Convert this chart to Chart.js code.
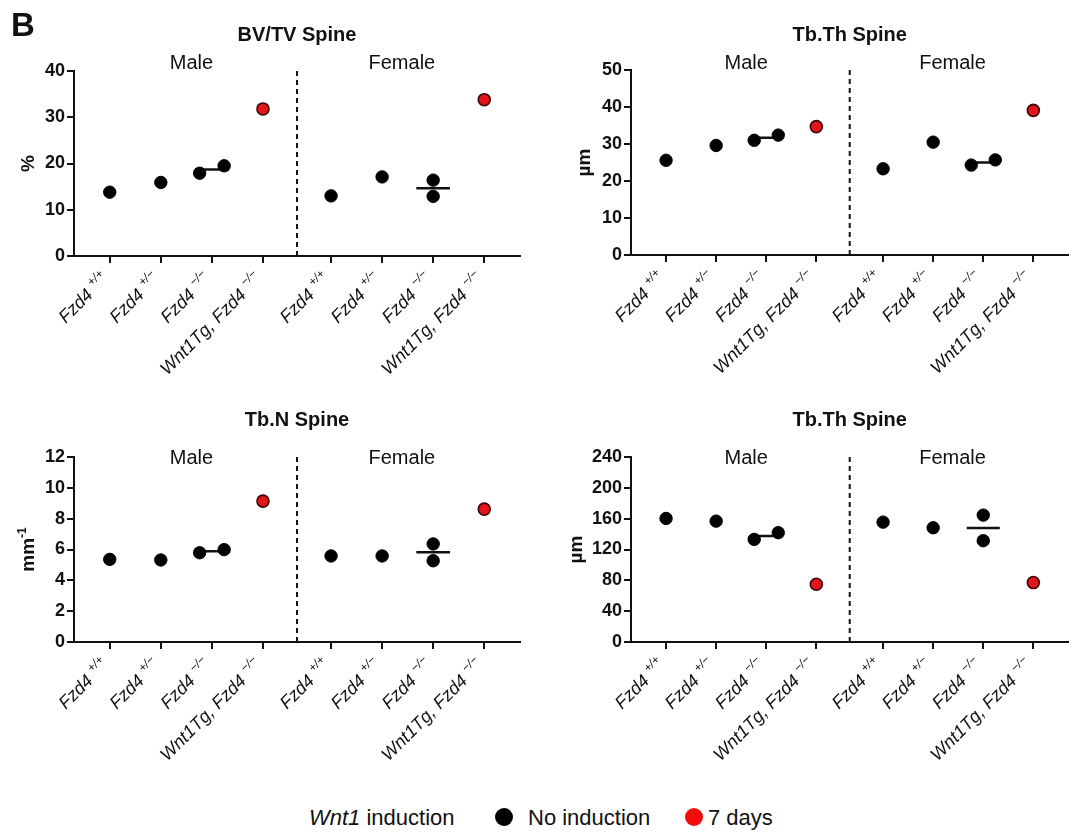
<!DOCTYPE html>
<html>
<head>
<meta charset="utf-8">
<script src="https://cdn.jsdelivr.net/npm/chart.js@4.4.1/dist/chart.umd.min.js"></script>
<style>
  html, body { margin: 0; padding: 0; background: #fff; }
  body { width: 1076px; height: 832px; position: relative; overflow: hidden;
         font-family: "Liberation Sans", Arial, Helvetica, sans-serif; color: #111; }
  canvas { position: absolute; }
  .lg { position: absolute; top: 806px; height: 24px; line-height: 24px; font-size: 22px; white-space: nowrap; }
  .dot { position: absolute; top: 808px; width: 18px; height: 18px; border-radius: 50%; }
</style>
</head>
<body>
<canvas id="c1" width="538" height="400" style="left:0;top:0"></canvas>
<canvas id="c2" width="538" height="400" style="left:538px;top:0"></canvas>
<canvas id="c3" width="538" height="400" style="left:0;top:400px"></canvas>
<canvas id="c4" width="538" height="400" style="left:538px;top:400px"></canvas>
<div class="lg" id="lgTitle" style="left:309px"></div>
<div class="dot" style="left:495px;background:#000"></div>
<div class="lg" id="lg0" style="left:528px"></div>
<div class="dot" style="left:685px;background:#f20d0d"></div>
<div class="lg" id="lg1" style="left:708px"></div>
<script>
// ---------------- data ----------------
const categoryNames = ['Fzd4', 'Fzd4', 'Fzd4', 'Wnt1Tg, Fzd4'];
const genotypes = ['+/+', '+/\u2212', '\u2212/\u2212', '\u2212/\u2212'];
const sexGroups = ['Male', 'Female'];
const inductionGroups = ['No induction', '7 days'];
const legendTitle = ['Wnt1', ' induction'];

// values per category (Fzd4+/+, Fzd4+/-, Fzd4-/-, Wnt1Tg;Fzd4-/-)
const bvtvMale   = [[13.8], [15.9], [17.9, 19.5], [31.8]];
const bvtvFemale = [[13.0], [17.1], [12.9, 16.4], [33.8]];
const tbthMale   = [[25.6], [29.6], [31.0, 32.4], [34.7]];
const tbthFemale = [[23.3], [30.5], [24.3, 25.7], [39.1]];
const tbnMale    = [[5.36], [5.32], [5.79, 5.99], [9.14]];
const tbnFemale  = [[5.58], [5.58], [5.27, 6.36], [8.62]];
const tbspMale   = [[160.3], [156.8], [133.1, 141.8], [75.0]];
const tbspFemale = [[155.5], [148.2], [131.4, 164.6], [77.1]];

const bvtvTicks = [0, 10, 20, 30, 40];
const tbthTicks = [0, 10, 20, 30, 40, 50];
const tbnTicks  = [0, 2, 4, 6, 8, 10, 12];
const tbspTicks = [0, 40, 80, 120, 160, 200, 240];

// ---------------- layout / style ----------------
const INK = '#111';
const FONT = '"Liberation Sans", Arial, Helvetica, sans-serif';
const MALE_POS = [0, 1, 2, 3];
const FEMALE_POS = [4.333, 5.333, 6.333, 7.333];
const DIVIDER = 3.667;
const X_MIN = -0.7, X_MAX = 8.033;
const SEX_LABEL_POS = [1.6, 5.72];
const PAIR_DX = 0.24, MEAN_HALF = 0.33;
const Y_W = 60, X_H = 20, CW = 538, CH = 400;

document.getElementById('lgTitle').innerHTML = '<i>' + legendTitle[0] + '</i>' + legendTitle[1];
document.getElementById('lg0').textContent = inductionGroups[0];
document.getElementById('lg1').textContent = inductionGroups[1];

const decor = {
  id: 'decor',
  afterDraw(chart, args, o) {
    const ctx = chart.ctx, xs = chart.scales.x, ca = chart.chartArea;
    ctx.save();
    // dashed divider between sexes
    const dx = xs.getPixelForValue(DIVIDER);
    ctx.strokeStyle = INK; ctx.lineWidth = 2; ctx.setLineDash([5, 4]);
    ctx.beginPath(); ctx.moveTo(dx, ca.top); ctx.lineTo(dx, ca.bottom); ctx.stroke();
    ctx.setLineDash([]);
    ctx.fillStyle = INK;
    // panel letter
    if (o.letter) {
      ctx.font = 'bold 33px ' + FONT; ctx.textAlign = 'left'; ctx.textBaseline = 'alphabetic';
      ctx.fillText(o.letter, 11, 36);
    }
    // title
    ctx.font = 'bold 20px ' + FONT; ctx.textAlign = 'center'; ctx.textBaseline = 'middle';
    ctx.fillText(o.title, (ca.left + ca.right) / 2, o.titleY);
    // sex labels
    ctx.font = '20px ' + FONT;
    sexGroups.forEach((s, i) => ctx.fillText(s, xs.getPixelForValue(SEX_LABEL_POS[i]), o.sexY));
    // y title
    ctx.save();
    ctx.translate(o.yTitleX, (ca.top + ca.bottom) / 2);
    ctx.rotate(-Math.PI / 2);
    ctx.font = 'bold 19px ' + FONT;
    const mw = ctx.measureText(o.yTitle).width;
    ctx.font = 'bold 12px ' + FONT;
    const sw = o.yTitleSup ? ctx.measureText(o.yTitleSup).width : 0;
    const tw = mw + sw;
    ctx.textAlign = 'left'; ctx.textBaseline = 'alphabetic';
    ctx.font = 'bold 19px ' + FONT;
    ctx.fillText(o.yTitle, -tw / 2, 7);
    if (o.yTitleSup) { ctx.font = 'bold 12px ' + FONT; ctx.fillText(o.yTitleSup, -tw / 2 + mw, -1); }
    ctx.restore();
    // x category labels (rotated, italic with superscript genotype)
    const all = MALE_POS.concat(FEMALE_POS);
    all.forEach((p, i) => {
      const k = i % 4;
      const x = xs.getPixelForValue(p);
      ctx.save();
      ctx.translate(x, ca.bottom + 24);
      ctx.rotate(-Math.PI / 4);
      ctx.textAlign = 'left'; ctx.textBaseline = 'alphabetic';
      const main = categoryNames[k] + ' ';
      ctx.font = 'italic 18px ' + FONT;
      const w1 = ctx.measureText(main).width;
      ctx.font = 'italic 12px ' + FONT;
      const w2 = ctx.measureText(genotypes[k]).width;
      ctx.font = 'italic 18px ' + FONT;
      ctx.fillText(main, -(w1 + w2), 0);
      ctx.font = 'italic 12px ' + FONT;
      ctx.fillText(genotypes[k], -w2, -8);
      ctx.restore();
    });
    ctx.restore();
  }
};

function buildDatasets(male, female, yMax, plotH) {
  const black = [], red = [], means = [];
  [[male, MALE_POS], [female, FEMALE_POS]].forEach(([groups, pos]) => {
    groups.forEach((vals, k) => {
      const sorted = vals.slice().sort((a, b) => a - b);
      let offs = sorted.map(() => 0);
      if (sorted.length === 2 && Math.abs(sorted[1] - sorted[0]) / yMax * plotH < 13) offs = [-PAIR_DX, PAIR_DX];
      sorted.forEach((v, j) => {
        const pt = { x: pos[k] + offs[j], y: v };
        (k === 3 ? red : black).push(pt);
      });
      if (sorted.length > 1) {
        const m = sorted.reduce((a, b) => a + b, 0) / sorted.length;
        means.push([{ x: pos[k] - MEAN_HALF, y: m }, { x: pos[k] + MEAN_HALF, y: m }]);
      }
    });
  });
  const ds = [
    { type: 'scatter', label: inductionGroups[0], data: black, pointRadius: 6.2, pointHoverRadius: 6.2,
      backgroundColor: '#000', borderColor: '#000', borderWidth: 1, order: 0 },
    { type: 'scatter', label: inductionGroups[1], data: red, pointRadius: 6, pointHoverRadius: 6,
      backgroundColor: '#e3141b', borderColor: '#3d0606', borderWidth: 1.6, order: 0 }
  ];
  means.forEach(m => ds.push({ type: 'line', data: m, borderColor: INK, borderWidth: 2.5,
    pointRadius: 0, showLine: true, fill: false, order: 1 }));
  return ds;
}

const panels = [
  { id: 'c1', letter: 'B', title: 'BV/TV Spine', yTitle: '%', male: bvtvMale, female: bvtvFemale, ticks: bvtvTicks,
    area: { l: 74, r: 520, t: 71, b: 256 }, titleY: 35, sexY: 63, yTitleX: 27 },
  { id: 'c2', title: 'Tb.Th Spine', yTitle: '\u00b5m', male: tbthMale, female: tbthFemale, ticks: tbthTicks,
    area: { l: 93, r: 537, t: 70, b: 255 }, titleY: 35, sexY: 63, yTitleX: 45 },
  { id: 'c3', title: 'Tb.N Spine', yTitle: 'mm', yTitleSup: '-1', male: tbnMale, female: tbnFemale, ticks: tbnTicks,
    area: { l: 74, r: 520, t: 57, b: 242 }, titleY: 20, sexY: 58, yTitleX: 27 },
  { id: 'c4', title: 'Tb.Th Spine', yTitle: '\u00b5m', male: tbspMale, female: tbspFemale, ticks: tbspTicks,
    area: { l: 93, r: 537, t: 57, b: 242 }, titleY: 20, sexY: 58, yTitleX: 37 }
];

const axisGrid = { drawOnChartArea: false, drawTicks: true, tickLength: 7, color: INK, lineWidth: 2 };
const axisBorder = { display: true, color: INK, width: 2 };

panels.forEach(p => {
  const a = p.area;
  const yMin = p.ticks[0], yMax = p.ticks[p.ticks.length - 1];
  new Chart(document.getElementById(p.id), {
    type: 'scatter',
    data: { datasets: buildDatasets(p.male, p.female, yMax, a.b - a.t) },
    plugins: [decor],
    options: {
      responsive: false, animation: false, events: [],
      layout: { padding: { left: a.l - Y_W, right: CW - a.r, top: a.t, bottom: CH - a.b - X_H } },
      plugins: {
        legend: { display: false }, tooltip: { enabled: false },
        decor: { letter: p.letter, title: p.title, yTitle: p.yTitle, yTitleSup: p.yTitleSup,
                 titleY: p.titleY, sexY: p.sexY, yTitleX: p.yTitleX }
      },
      scales: {
        x: { type: 'linear', min: X_MIN, max: X_MAX,
             afterBuildTicks: s => { s.ticks = MALE_POS.concat(FEMALE_POS).map(v => ({ value: v })); },
             afterFit: s => { s.height = X_H; },
             ticks: { display: false }, grid: axisGrid, border: axisBorder },
        y: { type: 'linear', min: yMin, max: yMax,
             afterBuildTicks: s => { s.ticks = p.ticks.map(v => ({ value: v })); },
             afterFit: s => { s.width = Y_W; },
             ticks: { color: INK, padding: 2, font: { family: FONT, size: 18, weight: 'bold' } },
             grid: axisGrid, border: axisBorder }
      }
    }
  });
});
</script>
</body>
</html>
